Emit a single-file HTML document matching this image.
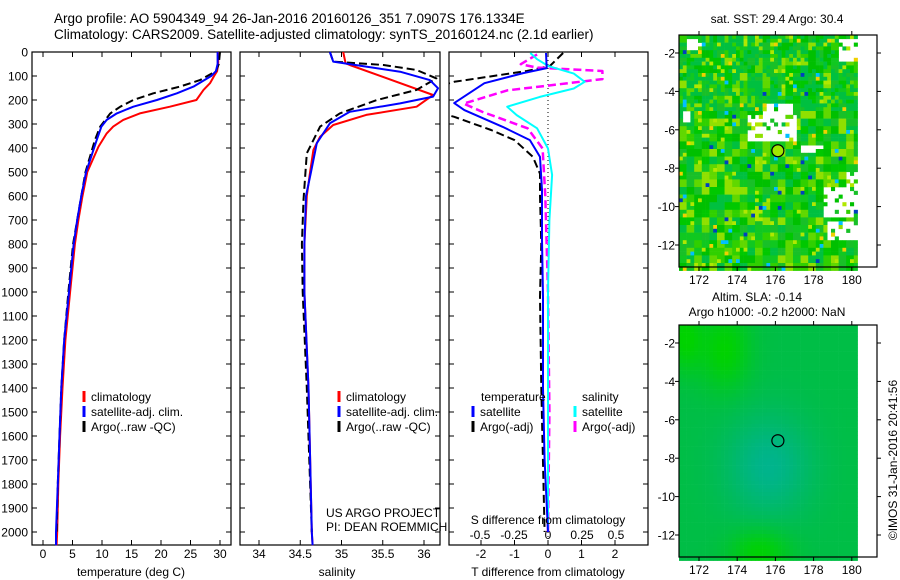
<!DOCTYPE html>
<html><head><meta charset="utf-8"><style>
html,body{margin:0;padding:0;background:#fff;}
svg{display:block;font-family:"Liberation Sans",sans-serif;}
</style></head><body>
<svg id="c" width="900" height="580" viewBox="0 0 900 580" xmlns="http://www.w3.org/2000/svg">
<text x="54" y="23" font-size="13.5">Argo profile: AO 5904349_94 26-Jan-2016 20160126_351 7.0907S 176.1334E</text>
<text x="54" y="39" font-size="13.5">Climatology: CARS2009. Satellite-adjusted climatology: synTS_20160124.nc (2.1d earlier)</text>
<g id="p1"></g>
<g id="p2"></g>
<g id="p3"></g>
<g id="m1"></g>
<g id="m2"></g>
<text x="777" y="23" font-size="12" text-anchor="middle">sat. SST: 29.4 Argo: 30.4</text>
<text x="757" y="301" font-size="12" text-anchor="middle">Altim. SLA: -0.14</text>
<text x="767" y="316" font-size="12" text-anchor="middle">Argo h1000: -0.2 h2000: NaN</text>
<text transform="translate(897,460) rotate(-90)" font-size="12" text-anchor="middle">©IMOS 31-Jan-2016 20:41:56</text>
<text x="326" y="517" font-size="12">US ARGO PROJECT</text>
<text x="326" y="531" font-size="12">PI: DEAN ROEMMICH</text>
</svg>
<script>
const NS="http://www.w3.org/2000/svg";
// ---- data ----
const depthTicks=[0,100,200,300,400,500,600,700,800,900,1000,1100,1200,1300,1400,1500,1600,1700,1800,1900,2000];
const tTicks=[0,5,10,15,20,25,30];
const sTicks=[34,34.5,35,35.5,36];
const dTTicks=[-2,-1,0,1,2];
const dSTicks=[-0.5,-0.25,0,0.25,0.5];
const dSTickLabels=["-0.5","-0.25","0","0.25","0.5"];
const climTdepth=[0,50,80,100,130,158,200,228,256,283,311,339,394,500,600,700,800,900,1000,1200,1400,1600,1800,2000,2055];
const climT=[29.7,29.7,29.5,29,28.3,27.2,26,21.5,16.4,13.6,11.9,10.8,9.4,7.5,6.7,6,5.4,5,4.6,3.8,3.3,2.9,2.6,2.4,2.3];
const satTdepth=[0,50,80,100,144,172,200,228,256,283,311,367,500,600,700,800,900,1000,1200,1400,1600,1800,2000,2055];
const satT=[29.6,29.6,29.3,28.5,25.5,22.7,19.3,15.3,12.5,10.8,9.9,9.1,7.3,6.5,5.8,5.2,4.8,4.4,3.6,3.1,2.8,2.5,2.2,2.2];
const argoTdepth=[0,50,80,117,144,172,200,228,256,311,367,500,600,700,800,900,1000,1200,1400,1600,1800,2000];
const argoT=[30,29.8,29.3,26.6,23.2,18.7,15.3,13.1,11.4,9.7,8.8,7.2,6.5,5.8,5.1,4.7,4.3,3.6,3.1,2.8,2.5,2.3];
const climSdepth=[0,47,54,179,228,262,304,353,408,500,600,800,1000,1400,2000,2055];
const climS=[35.02,35.05,35.1,36.11,35.91,35.3,34.9,34.74,34.66,34.62,34.58,34.55,34.55,34.6,34.64,34.65];
const satSdepth=[0,40,61,82,117,151,186,214,249,297,380,500,600,800,1000,1400,2000,2055];
const satS=[34.86,34.9,35.3,35.71,36.07,36.17,36.11,35.71,35.1,34.86,34.7,34.63,34.57,34.55,34.55,34.6,34.64,34.65];
const argoSdepth=[0,40,54,75,110,158,200,256,311,422,617,800,1000,1400,2000];
const argoS=[34.86,34.9,35.51,35.91,36.15,35.91,35.43,34.98,34.74,34.58,34.54,34.52,34.53,34.58,34.64];
const dTdepth=[4,67,88,130,213,242,312,367,437,575,783,1020,1400,1700,2000];
const dTsat=[-0.06,-0.04,-0.74,-1.9,-2.8,-2.5,-1.35,-0.54,-0.24,-0.18,-0.18,-0.15,-0.15,-0.1,0];
const dTargoDepth=[4,58,79,124,140,255,270,325,367,437,507,600,800,1020,1400,2000];
const dTargo=[0.45,0.06,-0.63,-2.8,-3.2,-3.2,-2.8,-1.7,-1.0,-0.45,-0.24,-0.24,-0.2,-0.24,-0.2,-0.1];
const dSdepth=[4,30,58,90,124,152,187,228,263,318,402,512,700,1000,1400,2000];
const dSsat=[-0.13,-0.08,0,0.19,0.27,0.19,-0.06,-0.3,-0.23,-0.08,0,0.03,0.01,0,0,0];
const dSargoDepth=[10,51,65,79,113,140,160,215,250,318,402,600,1000,1500,2000];
const dSargo=[-0.08,-0.2,-0.08,0.4,0.4,0,-0.3,-0.62,-0.48,-0.15,-0.04,-0.02,0,0.01,0];
// ---- helpers ----
function el(tag,attrs,parent){const e=document.createElementNS(NS,tag);for(const k in attrs)e.setAttribute(k,attrs[k]);parent.appendChild(e);return e;}
const Y=d=>52+d*0.24;
const PT=52,PB=545;
function panel(g,x0,x1){
  const r=el('rect',{x:x0,y:PT,width:x1-x0,height:PB-PT,fill:'none',stroke:'#000','stroke-width':1.2},g);
  
  
}
function line(g,xs,ds,fx,color,w,dash,name){
  const p=xs.map((v,i)=>fx(v).toFixed(1)+','+Y(ds[i]).toFixed(1)).join(' ');
  const e=el('polyline',{points:p,fill:'none',stroke:color,'stroke-width':w,'stroke-linejoin':'round'},g);
  if(dash)e.setAttribute('stroke-dasharray',dash);
  
  
}
function xticks(g,ticks,labels,fx,y){
  ticks.forEach((t,i)=>{
    el('line',{x1:fx(t),x2:fx(t),y1:PT,y2:PT+5,stroke:'#000'},g);
    el('line',{x1:fx(t),x2:fx(t),y1:PB,y2:PB-5,stroke:'#000'},g);
    if(labels){const tx=el('text',{x:fx(t),y:y,'font-size':12,'text-anchor':'middle'},g);tx.textContent=labels[i];
      
      }
  });
}
function yticks(g,x0,x1,lab){
  depthTicks.forEach(d=>{
    el('line',{x1:x0,x2:x0+5,y1:Y(d),y2:Y(d),stroke:'#000'},g);
    el('line',{x1:x1,x2:x1-5,y1:Y(d),y2:Y(d),stroke:'#000'},g);
    if(lab){const t=el('text',{x:28,y:Y(d)+4.5,'font-size':12,'text-anchor':'end'},g);t.textContent=d;
      
      }
  });
}
function legend(g,x,y,color,text,dash){
  const m=el('line',{x1:x,x2:x,y1:y-10,y2:y+1,stroke:color,'stroke-width':3},g);
  
  
  if(dash)m.setAttribute('stroke-dasharray','7,3');
  const t=el('text',{x:x+7,y:y,'font-size':12},g);t.textContent=text;
  
  
}
function title(g,x,y,s){const t=el('text',{x:x,y:y,'font-size':12,'text-anchor':'middle'},g);t.textContent=s;
  
  }
// panel 1
const g1=document.getElementById('p1');
const fxT=v=>43+v*5.9;
panel(g1,32,231);yticks(g1,32,231,true);xticks(g1,tTicks,tTicks,fxT,558);
line(g1,climT,climTdepth,fxT,'#f00',2,null,'temp-climatology-line');
line(g1,argoT,argoTdepth,fxT,'#000',2,'8,4','temp-argo-line');
line(g1,satT,satTdepth,fxT,'#00f',2,null,'temp-satellite-line');
legend(g1,84,401,'#f00','climatology');legend(g1,84,416,'#00f','satellite-adj. clim.');legend(g1,84,431,'#000','Argo(..raw -QC)');
title(g1,131,576,'temperature (deg C)');
// panel 2
const g2=document.getElementById('p2');
const fxS=v=>259+(v-34)*82.5;
panel(g2,240,440);yticks(g2,240,440,false);xticks(g2,sTicks,sTicks,fxS,558);
line(g2,climS,climSdepth,fxS,'#f00',2,null,'sal-climatology-line');
line(g2,argoS,argoSdepth,fxS,'#000',2,'8,4','sal-argo-line');
line(g2,satS,satSdepth,fxS,'#00f',2,null,'sal-satellite-line');
legend(g2,339,401,'#f00','climatology');legend(g2,339,416,'#00f','satellite-adj. clim.');legend(g2,339,431,'#000','Argo(..raw -QC)');
title(g2,337,576,'salinity');
// panel 3
const g3=document.getElementById('p3');
const fxdT=v=>548+v*33.5, fxdS=v=>548+v*136;
panel(g3,449,648);yticks(g3,449,648,false);xticks(g3,dTTicks,dTTicks,fxdT,558);
el('line',{x1:548,x2:548,y1:PT,y2:PB,stroke:'#000','stroke-dasharray':'1,3'},g3);
dSTicks.forEach((t,i)=>{const tx=el('text',{x:fxdS(t),y:539,'font-size':12,'text-anchor':'middle'},g3);tx.textContent=dSTickLabels[i];
  
  });
const cp=el('clipPath',{id:'cp3'},g3);el('rect',{x:449,y:PT,width:199,height:PB-PT},cp);
const g3c=el('g',{'clip-path':'url(#cp3)'},g3);
line(g3c,dTargo,dTargoDepth,fxdT,'#000',2,'8,4','tdiff-argo-line');
line(g3c,dSargo,dSargoDepth,fxdS,'#f0f',2.5,'8,4','sdiff-argo-line');
line(g3c,dSsat,dSdepth,fxdS,'#0ff',2,null,'sdiff-satellite-line');
line(g3c,dTsat,dTdepth,fxdT,'#00f',2,null,'tdiff-satellite-line');
let t3=el('text',{x:481,y:401,'font-size':12},g3);t3.textContent='temperature';


t3=el('text',{x:582,y:401,'font-size':12},g3);t3.textContent='salinity';


legend(g3,473,416,'#00f','satellite');legend(g3,473,431,'#000','Argo(-adj)');
legend(g3,575,416,'#0ff','satellite');legend(g3,575,431,'#f0f','Argo(-adj)');
title(g3,548,524,'S difference from climatology');
title(g3,548,576,'T difference from climatology');
// ---- maps ----
const lonTicks=[172,174,176,178,180];
const latTicks=[-2,-4,-6,-8,-10,-12];
function hsh(i,j,s){let h=(i*374761393+j*668265263+s*982451653)|0;h=(h^(h>>>13))*1274126177|0;return ((h^(h>>>16))>>>0)/4294967296;}
const sstPal=['#00c800','#10c820','#00c000','#30d000','#60d800','#90e000','#00c040','#18c028'];
function map(g,top,kind){
  const X=lon=>699+(lon-172)*19.1, YY=lat=>top+18+(-2-lat)*19.2;
  const x0=679,x1=877,y0=top,y1=top+232,dx=855;
  const cs=3.8;
  for(let i=0;(x0+i*cs)<dx;i++)for(let j=0;(y0+j*cs)<y1;j++){
    const x=x0+i*cs,y=y0+j*cs;let col;
    if(kind===1){
      const r=hsh(i,j,1);
      const holes=((x>745&&x<795&&y>112&&y<140)||(x>760&&x<790&&y>100&&y<112)||(x>679&&x<690&&y>105&&y<120)||(x>800&&x<820&&y>145&&y<152)||(x>823&&x<855&&y>185&&y<215)||(x>825&&x<855&&y>220&&y<240)||(x>685&&x<700&&y>35&&y<48)||(x>838&&y>35&&y<60)||(x>845&&y>170&&y<185));
      if(holes&&r<0.8){continue;}
      let k=Math.floor(hsh(Math.floor(i/2),Math.floor(j/2),2)*8);
      if(y<110&&hsh(i,j,5)<0.35)k=6;
      if(r>0.99)col='#0040c0';else if(r>0.98)col='#00c0ff';else if(r>0.97)col='#f0d000';else if(r>0.93)col='#b0e800';else col=sstPal[k];
    }else{
      const u=(x-679)/176,v=(y-top)/232;
      const cx=Math.exp(-((u-0.5)**2/0.06+(v-0.6)**2/0.05));
      const ex=Math.exp(-((u-0.25)**2/0.02+(v-0.1)**2/0.03))+Math.exp(-((u-0.45)**2/0.03+(v-0.97)**2/0.01))+Math.exp(-((u-0.02)**2/0.01+(v-0.05)**2/0.02));
      const gch=Math.round(190+20*ex-10*cx), b=Math.round(70+70*cx-70*ex);
      col='rgb(0,'+Math.min(230,gch)+','+Math.max(0,b)+')';
    }
    el('rect',{x:x.toFixed(1),y:y.toFixed(1),width:cs+0.3,height:cs+0.3,fill:col},g);
  }
  const fr=el('rect',{x:x0,y:y0,width:x1-x0,height:y1-y0,fill:'none',stroke:'#000','stroke-width':1.2},g);
  
  
  lonTicks.forEach(l=>{el('line',{x1:X(l),x2:X(l),y1:y0,y2:y0-4,stroke:'#000'},g);el('line',{x1:X(l),x2:X(l),y1:y1,y2:y1+4,stroke:'#000'},g);
    const t=el('text',{x:X(l),y:y1+17,'font-size':12,'text-anchor':'middle'},g);t.textContent=l;
    
    });
  latTicks.forEach(l=>{el('line',{x1:x0,x2:x0-4,y1:YY(l),y2:YY(l),stroke:'#000'},g);el('line',{x1:x1,x2:x1+4,y1:YY(l),y2:YY(l),stroke:'#000'},g);
    const t=el('text',{x:675,y:YY(l)+4.5,'font-size':12,'text-anchor':'end'},g);t.textContent=l;
    
    });
  const c=el('circle',{cx:X(176.13),cy:YY(-7.09),r:6,fill:kind===1?'#a0e800':'none',stroke:'#000','stroke-width':1.2},g);
  
  
}
map(document.getElementById('m1'),35,1);
map(document.getElementById('m2'),325,2);
</script>
</body></html>
